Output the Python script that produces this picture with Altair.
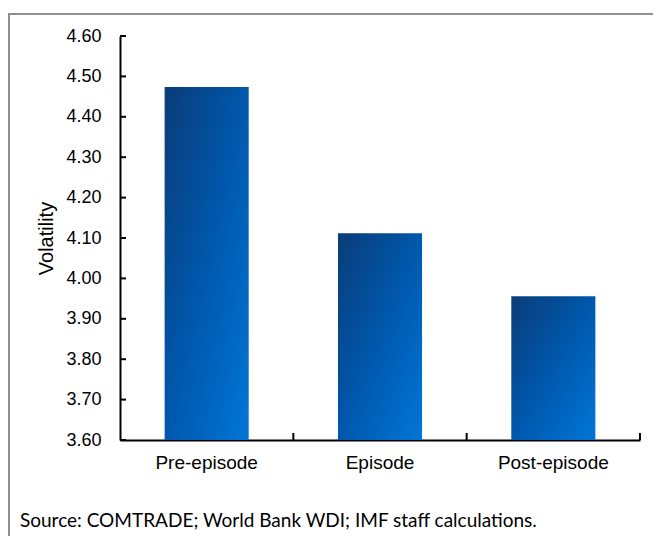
import altair as alt
import pandas as pd

categories = ["Pre-episode", "Episode", "Post-episode"]
volatility = [4.474, 4.112, 3.956]
y_ticks = [3.60, 3.70, 3.80, 3.90, 4.00, 4.10, 4.20, 4.30, 4.40, 4.50, 4.60]
y_title = "Volatility"
source_note = "Source: COMTRADE; World Bank WDI; IMF staff calculations."

df = pd.DataFrame({"period": categories, "volatility": volatility})
ticks_df = pd.DataFrame({"t": y_ticks})
cats_df = pd.DataFrame({"period": categories})
note_df = pd.DataFrame({"note": [source_note]})

W, H = 520, 404
FONT = "Liberation Sans"

xscale = alt.Scale(domain=categories, paddingInner=0, paddingOuter=0)
yscale = alt.Scale(domain=[3.6, 4.6], nice=False, zero=False)

bars = alt.Chart(df).mark_bar(
    width=alt.RelativeBandSize(0.485),
    color=alt.Gradient(
        gradient="linear",
        stops=[alt.GradientStop(color="#0a3c78", offset=0),
               alt.GradientStop(color="#0058ad", offset=0.5),
               alt.GradientStop(color="#0076d8", offset=1)],
        x1=0, y1=0, x2=1, y2=1,
    ),
).encode(
    x=alt.X("period:N", scale=xscale, sort=categories,
            axis=alt.Axis(title=None, ticks=False, labelAngle=0, labelFontSize=19,
                          labelFont=FONT, labelColor="black", labelPadding=13,
                          domainColor="black", domainWidth=2)),
    y=alt.Y("volatility:Q", scale=yscale,
            axis=alt.Axis(title=y_title, values=y_ticks, format=".2f", ticks=False,
                          grid=False, labelFontSize=18, labelFont=FONT,
                          labelColor="black", labelPadding=19,
                          titleFont=FONT, titleFontSize=20, titleFontWeight="normal",
                          titleColor="black", titlePadding=9,
                          domainColor="black", domainWidth=2)),
    y2=alt.datum(3.6),
)

ytick_rules = alt.Chart(ticks_df).mark_rule(color="black", strokeWidth=2).encode(
    y=alt.Y("t:Q", scale=yscale),
    x=alt.value(0),
    x2=alt.value(6),
)

xtick_rules = alt.Chart(cats_df).mark_rule(color="black", strokeWidth=2).encode(
    x=alt.X("period:N", scale=xscale, sort=categories, bandPosition=1),
    y=alt.value(H),
    y2=alt.value(H - 7),
)

frame_top = alt.Chart(note_df).mark_rule(color="#8f8f8f", strokeWidth=2).encode(
    x=alt.value(-112), x2=alt.value(W + 13), y=alt.value(-22),
)
frame_left = alt.Chart(note_df).mark_rule(color="#8f8f8f", strokeWidth=2).encode(
    x=alt.value(-111), y=alt.value(-22), y2=alt.value(H + 100),
)

note = alt.Chart(note_df).mark_text(
    align="left", baseline="middle", font="Lato", fontSize=19, color="black",
).encode(
    text="note:N", x=alt.value(-100), y=alt.value(485),
)

chart = alt.layer(frame_top, frame_left, bars, ytick_rules, xtick_rules, note).properties(
    width=W, height=H,
    autosize=alt.AutoSizeParams(type="none"),
    padding={"left": 112, "top": 28, "right": 13, "bottom": 96},
).configure(background="white").configure_view(stroke=None)

chart.save("out.html", embed_options={"renderer": "svg", "actions": False})
